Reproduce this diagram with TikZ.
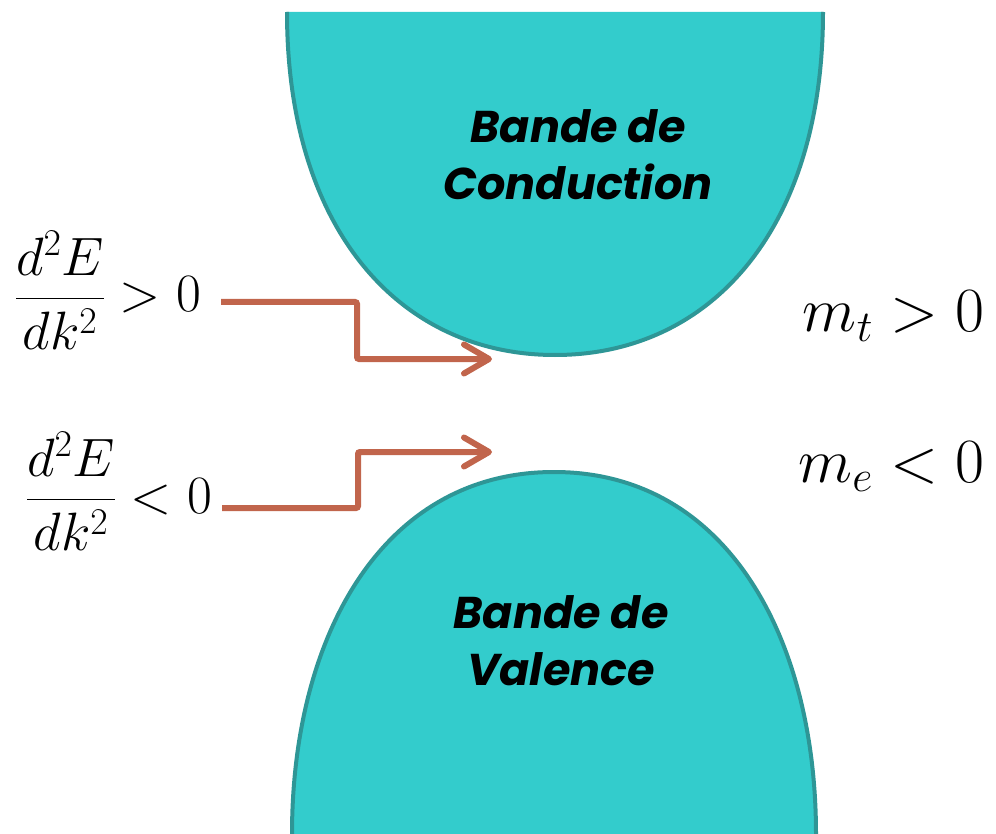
\documentclass[tikz,border=0pt]{standalone}
\usepackage{fix-cm}
\usepackage{amsmath}
\usepackage{fontspec}
\newfontfamily\bandfont{Poppins}
\usetikzlibrary{arrows.meta}
\definecolor{bandfill}{HTML}{33CCCC}
\definecolor{bandedge}{HTML}{2E9696}
\definecolor{arrowc}{HTML}{C1654C}
\tikzset{
  bandbody/.style={fill=bandfill},
  bandrim/.style={draw=bandedge,line width=4pt},
  bandlab/.style={align=center,inner sep=0pt,
    font=\bandfont\bfseries\itshape\fontsize{44.5}{57}\selectfont},
  deriv/.style={inner sep=0pt,font=\fontsize{54}{64}\selectfont},
  mass/.style={inner sep=0pt,font=\fontsize{63}{74}\selectfont},
  flow/.style={-{Straight Barb[length=25pt,width=29pt,round]},line width=6pt,
    draw=arrowc,rounded corners=2pt},
}

\begin{document}
\begin{tikzpicture}[x=1pt,y=-1pt]
  \useasboundingbox (0,0) rectangle (996,834);
  % conduction band (open at the top)
  \fill[bandbody] (287,12) .. controls (287,230) and (400,355) .. (555,355)
    .. controls (710,355) and (823,230) .. (823,12) -- cycle;
  \draw[bandrim] (287,12) .. controls (287,230) and (400,355) .. (555,355)
    .. controls (710,355) and (823,230) .. (823,12);
  % valence band (open at the bottom)
  \fill[bandbody] (292,840) -- (292,834) .. controls (292,640) and (380,472) .. (554,472)
    .. controls (728,472) and (816,640) .. (816,834) -- (816,840) -- cycle;
  \draw[bandrim] (292,840) -- (292,834) .. controls (292,640) and (380,472) .. (554,472)
    .. controls (728,472) and (816,640) .. (816,834) -- (816,840);
  \node[bandlab] (cbande) at (578,155) {Bande de\\Conduction};
  \node[bandlab] (vbande) at (561,641) {Bande de\\Valence};
  % curvature labels and effective masses
  \node[deriv,anchor=base east] (gpos) at (201,312) {$\dfrac{d^2E}{dk^2}>0$};
  \node[deriv,anchor=base east] (gneg) at (212,513) {$\dfrac{d^2E}{dk^2}<0$};
  \node[mass,anchor=base east] (mt) at (985,332) {$m_t>0$};
  \node[mass,anchor=base east] (me) at (985,482) {$m_e<0$};
  \coordinate (kneeA) at (357,359);
  \coordinate (cbtip) at (492,359);
  \coordinate (kneeB) at (358,452);
  \coordinate (vbtip) at (492,452);
  \draw[flow] ([xshift=20pt,yshift=10pt]gpos.base east) -| (kneeA) -- (cbtip);
  \draw[flow] ([xshift=10pt,yshift=5pt]gneg.base east) -| (kneeB) -- (vbtip);
\end{tikzpicture}
\end{document}
